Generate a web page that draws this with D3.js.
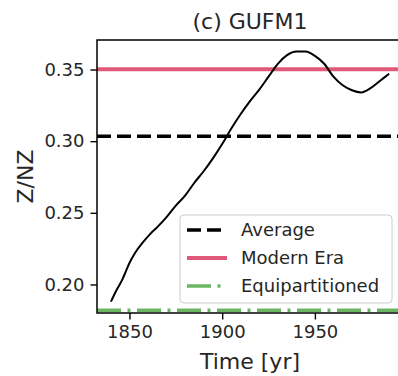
<!DOCTYPE html>
<html><head><meta charset="utf-8">
<script src="https://cdn.jsdelivr.net/npm/d3@7"></script>
<style>html,body{margin:0;padding:0;background:#fff;}svg{display:block;font-family:"DejaVu Sans",sans-serif;}</style>
</head><body>
<svg id="chart" width="398" height="376"></svg>
<script>
const years = [1840,1843,1846,1848,1850,1853,1857,1861,1865,1870,1875,1880,1885,1890,1895,1900,1905,1910,1915,1920,1925,1930,1935,1940,1945,1950,1955,1960,1965,1970,1975,1980,1985,1990];
const zValues = [0.188,0.196,0.203,0.209,0.215,0.222,0.229,0.235,0.240,0.247,0.255,0.262,0.271,0.279,0.288,0.298,0.309,0.319,0.328,0.336,0.345,0.354,0.360,0.3625,0.3625,0.3595,0.354,0.345,0.339,0.3355,0.334,0.337,0.342,0.347];
const refNames = ["Average","Modern Era","Equipartitioned"];
const refValues = [0.3035,0.3502,0.182];
const xTicks = [1850,1900,1950];
const yTicks = [0.20,0.25,0.30,0.35];
const titleText = "(c) GUFM1";
const xLabel = "Time [yr]";
const yLabel = "Z/NZ";

const svg = d3.select("#chart");
const L = 97, R = 403, T = 40, B = 313;
const x = d3.scaleLinear().domain([1832.5,1997.5]).range([L,R]);
const y = d3.scaleLinear().domain([0.1801,0.3706]).range([B,T]);

const styles = [
  {stroke:"#000", width:3.5, dash:"14,6"},
  {stroke:"#e0587a", width:4, dash:null},
  {stroke:"#6ab665", width:3.5, dash:"24,6.5,3,6.5"}
];

svg.append("defs").append("clipPath").attr("id","clip")
  .append("rect").attr("x",L).attr("y",T).attr("width",R-L).attr("height",B-T);
const plot = svg.append("g").attr("clip-path","url(#clip)");

refValues.forEach((v,i)=>{
  const l = plot.append("line").attr("x1",L).attr("x2",R).attr("y1",y(v)).attr("y2",y(v))
    .attr("stroke",styles[i].stroke).attr("stroke-width",styles[i].width);
  if(styles[i].dash) l.attr("stroke-dasharray",styles[i].dash);
});

const line = d3.line().x((d,i)=>x(years[i])).y(d=>y(d)).curve(d3.curveMonotoneX);
plot.append("path").datum(zValues).attr("d",line).attr("fill","none")
  .attr("stroke","#000").attr("stroke-width",2);

// axes
const xAxis = svg.append("g").attr("transform",`translate(0,${B})`)
  .call(d3.axisBottom(x).tickValues(xTicks).tickFormat(d3.format("d")).tickSize(6.5).tickPadding(6));
const yAxis = svg.append("g").attr("transform",`translate(${L},0)`)
  .call(d3.axisLeft(y).tickValues(yTicks).tickFormat(d3.format(".2f")).tickSize(6.5).tickPadding(6));
[xAxis,yAxis].forEach(a=>{
  a.select(".domain").remove();
  a.selectAll(".tick line").attr("stroke","#000").attr("stroke-width",1.4);
  a.selectAll(".tick text").attr("font-size",18).attr("fill","#262626").attr("font-family","DejaVu Sans");
});
xAxis.selectAll(".tick text").attr("dy","0.71em");

// spines
svg.append("rect").attr("x",L).attr("y",T).attr("width",R-L).attr("height",B-T)
  .attr("fill","none").attr("stroke","#000").attr("stroke-width",1.5);

// title & labels
svg.append("text").attr("x",(L+R)/2).attr("y",29).attr("text-anchor","middle")
  .attr("font-size",22).attr("fill","#262626").text(titleText);
svg.append("text").attr("x",(L+R)/2).attr("y",369).attr("text-anchor","middle")
  .attr("font-size",22).attr("fill","#262626").text(xLabel);
svg.append("text").attr("transform",`translate(33,${(T+B)/2}) rotate(-90)`).attr("text-anchor","middle")
  .attr("font-size",22).attr("fill","#262626").text(yLabel);

// legend
const lg = svg.append("g");
lg.append("rect").attr("x",180).attr("y",215).attr("width",212).attr("height",88).attr("rx",4)
  .attr("fill","#fff").attr("fill-opacity",0.8).attr("stroke","#ccc").attr("stroke-width",1);
refNames.forEach((n,i)=>{
  const yy = 230 + i*28;
  const l = lg.append("line").attr("x1",187).attr("x2",227).attr("y1",yy).attr("y2",yy)
    .attr("stroke",styles[i].stroke).attr("stroke-width",styles[i].width);
  if(i===0) l.attr("stroke-dasharray","14,6");
  if(i===2) l.attr("stroke-dasharray","24,6.5,3,6.5");
  lg.append("text").attr("x",241).attr("y",yy).attr("dy","0.35em").attr("font-size",18)
    .attr("fill","#262626").text(n);
});
</script>
</body></html>
